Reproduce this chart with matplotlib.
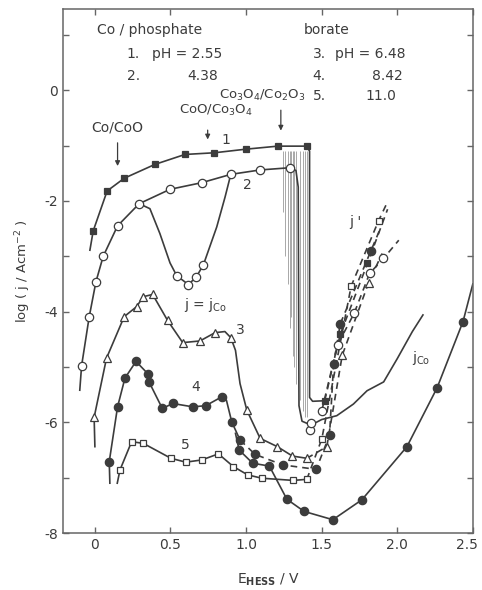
import matplotlib
matplotlib.use("Agg")
import matplotlib.pyplot as plt
import matplotlib.transforms as mtransforms

INK = "#3c3c3c"
plt.rcParams['font.family'] = ['DejaVu Sans']

# curve 1: Co / phosphate pH 2.55 (filled squares)
c1_E = [-0.011, 0.081, 0.194, 0.397, 0.596, 0.790, 0.998, 1.21, 1.40]
c1_j = [-2.54, -1.82, -1.59, -1.34, -1.16, -1.13, -1.065, -1.01, -1.01]
c1_path_E = [-0.033, -0.011, 0.081, 0.194, 0.397, 0.596, 0.790, 0.998, 1.21, 1.40, 1.42, 1.42, 1.44, 1.52]
c1_path_j = [-2.89, -2.54, -1.82, -1.59, -1.34, -1.16, -1.13, -1.065, -1.01, -1.01, -1.1, -5.55, -5.62, -5.61]
c1_tp_E = [1.52, 1.623, 1.803]
c1_tp_j = [-5.61, -4.41, -3.13]
c1_tpline_E = [1.52, 1.623, 1.803, 1.936]
c1_tpline_j = [-5.61, -4.41, -3.13, -2.15]

# curve 2: pH 4.38 (open circles)
c2_E = [-0.088, -0.038, 0.007, 0.055, 0.150, 0.293, 0.497, 0.707, 0.899, 1.093, 1.291,
        0.541, 0.618, 0.669, 0.717, 1.424, 1.43, 1.50]
c2_j = [-4.98, -4.10, -3.46, -3.00, -2.45, -2.05, -1.79, -1.67, -1.52, -1.44, -1.40,
        -3.35, -3.51, -3.38, -3.16, -6.14, -6.02, -5.80]
c2_path_E = [-0.10, -0.088, -0.038, 0.007, 0.055, 0.150, 0.293, 0.497, 0.707, 0.899, 1.093, 1.291,
             1.33, 1.345, 1.35, 1.37, 1.43, 1.50, 1.60, 1.71, 1.80, 1.91, 2.00, 2.10, 2.17]
c2_path_j = [-5.42, -4.98, -4.10, -3.46, -3.00, -2.45, -2.05, -1.79, -1.67, -1.52, -1.44, -1.40,
             -1.45, -1.75, -5.7, -5.98, -6.05, -5.95, -5.88, -5.67, -5.43, -5.27, -4.85, -4.36, -4.06]
c2_dip_E = [0.293, 0.364, 0.43, 0.497, 0.541, 0.618, 0.669, 0.717, 0.806, 0.861, 0.899]
c2_dip_j = [-2.05, -2.14, -2.59, -3.12, -3.35, -3.51, -3.38, -3.16, -2.47, -1.93, -1.52]
c2_jco_E = [1.60, 1.71, 1.80, 1.91, 2.10]
c2_jco_j = [-5.88, -5.67, -5.43, -5.27, -4.36]
c2_tp_E = [1.605, 1.715, 1.817, 1.909]
c2_tp_j = [-4.60, -4.03, -3.31, -3.04]
c2_tpline_E = [1.50, 1.605, 1.715, 1.817, 1.909, 2.01]
c2_tpline_j = [-5.80, -4.60, -4.03, -3.31, -3.04, -2.71]

# curve 3: borate pH 6.48 (open triangles)
c3_E = [-0.005, 0.077, 0.194, 0.276, 0.32, 0.382, 0.481, 0.581, 0.695, 0.795, 0.899,
        1.005, 1.093, 1.207, 1.307, 1.402, 1.534, 1.636, 1.81]
c3_j = [-5.91, -4.84, -4.09, -3.91, -3.73, -3.69, -4.16, -4.56, -4.53, -4.38, -4.47,
        -5.78, -6.29, -6.44, -6.61, -6.65, -6.44, -4.79, -3.48]
c3_path_E = [0.0, -0.005, 0.077, 0.194, 0.276, 0.32, 0.382, 0.481, 0.581, 0.695, 0.795, 0.86, 0.899,
             0.93, 0.96, 1.005, 1.093, 1.207, 1.307, 1.402]
c3_path_j = [-6.44, -5.91, -4.84, -4.09, -3.91, -3.73, -3.69, -4.16, -4.56, -4.53, -4.38, -4.36, -4.47,
             -4.7, -5.3, -5.78, -6.29, -6.44, -6.61, -6.65]
c3_tpline_E = [1.402, 1.534, 1.636, 1.81, 1.90]
c3_tpline_j = [-6.65, -6.44, -4.79, -3.48, -2.95]

# curve 4: pH 8.42 (filled circles)
c4_E = [0.095, 0.150, 0.199, 0.272, 0.353, 0.360, 0.446, 0.515, 0.647, 0.733, 0.839, 0.905,
        0.960, 0.954, 1.060, 1.243, 1.464, 1.552, 1.579, 1.623, 1.826,
        1.044, 1.154, 1.270, 1.384, 1.574, 1.766, 2.064, 2.263, 2.435]
c4_j = [-6.71, -5.72, -5.20, -4.90, -5.13, -5.28, -5.75, -5.66, -5.72, -5.70, -5.54, -5.99,
        -6.32, -6.50, -6.58, -6.77, -6.85, -6.23, -4.95, -4.22, -2.90,
        -6.74, -6.79, -7.39, -7.61, -7.76, -7.40, -6.44, -5.38, -4.18]
c4_path_E = [0.099, 0.095, 0.150, 0.199, 0.272, 0.353, 0.360, 0.446, 0.515, 0.647, 0.733, 0.839,
             0.87, 0.905, 0.960]
c4_path_j = [-7.10, -6.71, -5.72, -5.20, -4.90, -5.13, -5.28, -5.75, -5.66, -5.72, -5.70, -5.54,
             -5.6, -5.99, -6.32]
c4_tpline_E = [0.960, 1.060, 1.243, 1.464, 1.552, 1.579, 1.623, 1.826, 1.88]
c4_tpline_j = [-6.32, -6.58, -6.77, -6.85, -6.23, -4.95, -4.22, -2.90, -2.55]
c4_low_E = [0.93, 0.954, 1.044, 1.154, 1.270, 1.384, 1.574, 1.766, 2.064, 2.263, 2.435, 2.50]
c4_low_j = [-6.2, -6.50, -6.74, -6.79, -7.39, -7.61, -7.76, -7.40, -6.44, -5.38, -4.18, -3.50]

# curve 5: pH 11.0 (open squares)
c5_E = [0.166, 0.243, 0.320, 0.503, 0.601, 0.707, 0.817, 0.916, 1.011, 1.104, 1.313, 1.402,
        1.501, 1.695, 1.876]
c5_j = [-6.86, -6.35, -6.38, -6.65, -6.72, -6.68, -6.57, -6.80, -6.95, -7.01, -7.05, -7.03,
        -6.30, -3.54, -2.36]
c5_path_E = [0.148, 0.166, 0.243, 0.320, 0.503, 0.601, 0.707, 0.817, 0.916, 1.011, 1.104, 1.313, 1.402]
c5_path_j = [-7.10, -6.86, -6.35, -6.38, -6.65, -6.72, -6.68, -6.57, -6.80, -6.95, -7.01, -7.05, -7.03]
c5_tpline_E = [1.402, 1.501, 1.695, 1.876, 1.93]
c5_tpline_j = [-7.03, -6.30, -3.54, -2.36, -2.05]

# oscillation hatching near the passivation break
hatch_E = [1.245, 1.26, 1.275, 1.29, 1.30, 1.31, 1.32, 1.33, 1.36, 1.375, 1.39, 1.405]
hatch_bot = [-2.2, -3.0, -3.5, -4.3, -4.1, -4.8, -5.0, -5.3, -5.6, -5.8, -5.9, -5.9]
hatch_top = -1.1

fig = plt.figure(figsize=(4.82, 5.90), dpi=100)
ax = fig.add_axes([0.131, 0.0966, 0.850, 0.8874])

ax.vlines(hatch_E, hatch_bot, hatch_top, colors="#a8a8a8", lw=0.7, zorder=1)

lw = 1.2
ax.plot(c1_path_E, c1_path_j, color=INK, lw=lw, zorder=2)
ax.plot(c1_tpline_E, c1_tpline_j, color=INK, lw=lw, ls=(0, (4, 3)), zorder=2)
ax.plot(c2_path_E, c2_path_j, color=INK, lw=lw, zorder=2)
ax.plot(c2_dip_E, c2_dip_j, color=INK, lw=lw, zorder=2)
ax.plot(c2_tpline_E, c2_tpline_j, color=INK, lw=lw, ls=(0, (4, 3)), zorder=2)
ax.plot(c3_path_E, c3_path_j, color=INK, lw=lw, zorder=2)
ax.plot(c3_tpline_E, c3_tpline_j, color=INK, lw=lw, ls=(0, (4, 3)), zorder=2)
ax.plot(c4_path_E, c4_path_j, color=INK, lw=lw, zorder=2)
ax.plot(c4_tpline_E, c4_tpline_j, color=INK, lw=lw, ls=(0, (4, 3)), zorder=2)
ax.plot(c4_low_E, c4_low_j, color=INK, lw=lw, zorder=2)
ax.plot(c5_path_E, c5_path_j, color=INK, lw=lw, zorder=2)
ax.plot(c5_tpline_E, c5_tpline_j, color=INK, lw=lw, ls=(0, (4, 3)), zorder=2)

mk = dict(ls="none", mec=INK, mew=0.9, zorder=3)
ax.plot(c1_E, c1_j, marker="s", ms=5, mfc=INK, **mk)
ax.plot(c1_tp_E, c1_tp_j, marker="s", ms=5, mfc=INK, **mk)
ax.plot(c2_E, c2_j, marker="o", ms=6, mfc="white", **mk)
ax.plot(c2_tp_E, c2_tp_j, marker="o", ms=6, mfc="white", **mk)
ax.plot(c3_E, c3_j, marker="^", ms=5.5, mfc="white", **mk)
ax.plot(c4_E, c4_j, marker="o", ms=6, mfc=INK, **mk)
ax.plot(c5_E, c5_j, marker="s", ms=5, mfc="white", **mk)

# curve labels
fs = 10
ax.text(0.865, -0.90, "1", color=INK, fontsize=fs, ha="center", va="center")
ax.text(1.01, -1.71, "2", color=INK, fontsize=fs, ha="center", va="center")
ax.text(0.96, -4.33, "3", color=INK, fontsize=fs, ha="center", va="center")
ax.text(0.67, -5.36, "4", color=INK, fontsize=fs, ha="center", va="center")
ax.text(0.60, -6.41, "5", color=INK, fontsize=fs, ha="center", va="center")
ax.text(0.73, -3.88, r"j = j$_{\rm Co}$", color=INK, fontsize=fs, ha="center", va="center")
ax.text(1.72, -2.38, "j '", color=INK, fontsize=fs, ha="center", va="center")
ax.text(2.16, -4.84, r"j$_{\rm Co}$", color=INK, fontsize=fs, ha="center", va="center")

# header text
ax.text(0.013, 1.08, "Co / phosphate", color=INK, fontsize=fs, va="center")
ax.text(1.38, 1.08, "borate", color=INK, fontsize=fs, va="center")
ax.text(0.21, 0.65, "1.", color=INK, fontsize=fs, va="center")
ax.text(0.38, 0.65, "pH = 2.55", color=INK, fontsize=fs, va="center")
ax.text(0.21, 0.25, "2.", color=INK, fontsize=fs, va="center")
ax.text(0.61, 0.25, "4.38", color=INK, fontsize=fs, va="center")
ax.text(1.44, 0.65, "3.", color=INK, fontsize=fs, va="center")
ax.text(1.59, 0.65, "pH = 6.48", color=INK, fontsize=fs, va="center")
ax.text(1.44, 0.25, "4.", color=INK, fontsize=fs, va="center")
ax.text(1.83, 0.25, "8.42", color=INK, fontsize=fs, va="center")
ax.text(1.44, -0.11, "5.", color=INK, fontsize=fs, va="center")
ax.text(1.79, -0.11, "11.0", color=INK, fontsize=fs, va="center")

# phase boundary arrows
arr = dict(arrowstyle="-|>", color=INK, lw=0.9, mutation_scale=7)
ax.text(0.15, -0.67, "Co/CoO", color=INK, fontsize=fs, ha="center", va="center")
ax.annotate("", xy=(0.15, -1.42), xytext=(0.15, -0.90), arrowprops=arr)
ax.text(0.80, -0.37, r"CoO/Co$_3$O$_4$", color=INK, fontsize=9.5, ha="center", va="center")
ax.annotate("", xy=(0.746, -0.94), xytext=(0.746, -0.67), arrowprops=arr)
ax.text(1.11, -0.09, r"Co$_3$O$_4$/Co$_2$O$_3$", color=INK, fontsize=9.5, ha="center", va="center")
ax.annotate("", xy=(1.23, -0.78), xytext=(1.23, -0.31), arrowprops=arr)

ax.set_xlim(-0.21, 2.5)
ax.set_ylim(-8, 1.46)
ax.set_xticks([0, 0.5, 1.0, 1.5, 2.0, 2.5])
ax.set_xticklabels(["0", "0.5", "1.0", "1.5", "2.0", "2.5"])
ax.set_yticks([0, -2, -4, -6, -8])
ax.set_yticklabels(["0", "-2", "-4", "-6", "-8"])
ax.set_yticks([1, -1, -3, -5, -7], minor=True)
ax.tick_params(which="both", direction="in", length=4, width=1, color="#666",
               top=True, right=True, labelsize=fs, labelcolor=INK)
for s in ax.spines.values():
    s.set_color("#666")
    s.set_linewidth(1.1)

# pull the last x label inside the figure edge
last = ax.get_xticklabels()[-1]
last.set_transform(last.get_transform() + mtransforms.ScaledTranslation(-6 / 100, 0, fig.dpi_scale_trans))

ax.set_xlabel(r"E$_{\mathbf{HESS}}$ / V", color=INK, fontsize=fs, labelpad=14)
ax.set_ylabel(r"log ( j / Acm$^{-2}$ )", color=INK, fontsize=9.5, labelpad=8)

fig.savefig("out.png", dpi=100)
